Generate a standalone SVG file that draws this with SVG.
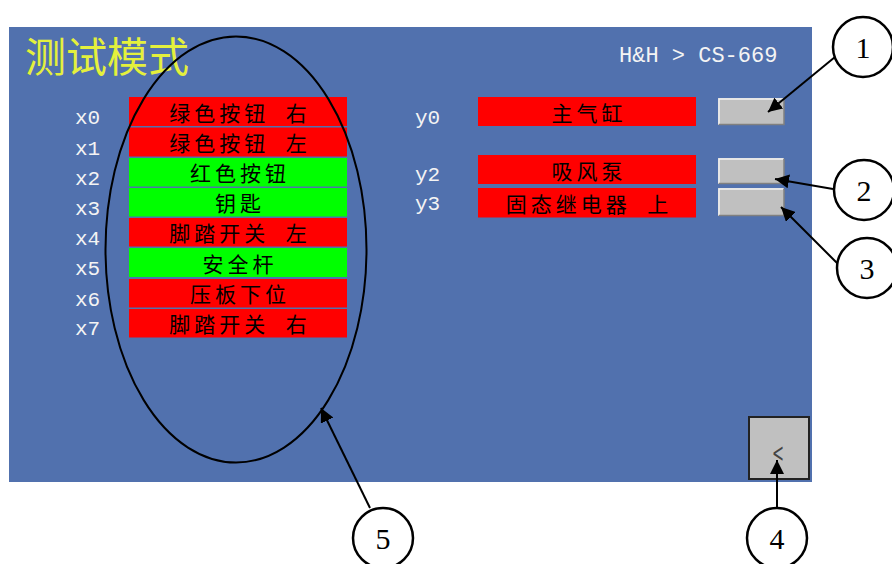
<svg xmlns="http://www.w3.org/2000/svg" width="892" height="564" viewBox="0 0 892 564">
<defs>
<style>
.cn{font-family:"Noto Sans CJK SC","Noto Sans CJK TC",sans-serif;font-size:21px;letter-spacing:4px;fill:#000;text-anchor:middle;dominant-baseline:central;word-spacing:8px}
.lbl{font-family:"Liberation Mono","DejaVu Sans Mono",monospace;font-size:21px;fill:#f4f4f4}
.red{fill:#ff0000}
.grn{fill:#00ff00}
.btn{fill:#c0c0c0}
.hl{fill:none;stroke:#f2f2f2;stroke-width:1.5}
.sh{fill:none;stroke:#808080;stroke-width:1.5}
.co{fill:#fff;stroke:#000;stroke-width:2.5}
.num{font-family:"Liberation Serif",serif;font-size:30px;fill:#000;text-anchor:middle;dominant-baseline:central}
.ar{fill:none;stroke:#000;stroke-width:2}
</style>
<marker id="ahb" viewBox="0 0 10 10" refX="10" refY="5" markerWidth="14" markerHeight="14" orient="auto" markerUnits="userSpaceOnUse">
<path d="M0,0 L10,5 L0,10 z" fill="#000"/>
</marker>
</defs>
<rect x="0" y="0" width="892" height="564" fill="#fff"/>
<g id="panel">
<rect x="9" y="27" width="803" height="455" fill="#5171ae"/>
<text x="25" y="72" font-family="'Noto Sans CJK SC',sans-serif" font-size="41" fill="#e4f03c">测试模式</text>
<text x="619" y="62" font-family="'Liberation Mono','DejaVu Sans Mono',monospace" font-size="22" fill="#f4f4f4">H&amp;H &gt; CS-669</text>
</g>
<g id="inputs">
<g id="x0"><text class="lbl" x="75" y="124">x0</text><rect class="red" x="129" y="97" width="218" height="29"/><text class="cn" x="240" y="111.5">绿色按钮 右</text></g>
<g id="x1"><text class="lbl" x="75" y="155">x1</text><rect class="red" x="129" y="127.5" width="218" height="29"/><text class="cn" x="240" y="142">绿色按钮 左</text></g>
<g id="x2"><text class="lbl" x="75" y="185">x2</text><rect class="grn" x="129" y="158" width="218" height="28.5"/><text class="cn" x="240" y="172">红色按钮</text></g>
<g id="x3"><text class="lbl" x="75" y="215">x3</text><rect class="grn" x="129" y="188" width="218" height="28.5"/><text class="cn" x="240" y="202">钥匙</text></g>
<g id="x4"><text class="lbl" x="75" y="245">x4</text><rect class="red" x="129" y="218" width="218" height="28.5"/><text class="cn" x="240" y="232">脚踏开关 左</text></g>
<g id="x5"><text class="lbl" x="75" y="275">x5</text><rect class="grn" x="129" y="248" width="218" height="29"/><text class="cn" x="240" y="262.5">安全杆</text></g>
<g id="x6"><text class="lbl" x="75" y="306">x6</text><rect class="red" x="129" y="279" width="218" height="28.5"/><text class="cn" x="240" y="293">压板下位</text></g>
<g id="x7"><text class="lbl" x="75" y="335">x7</text><rect class="red" x="129" y="309" width="218" height="28.5"/><text class="cn" x="240" y="323">脚踏开关 右</text></g>
</g>
<g id="outputs">
<g id="y0"><text class="lbl" x="415" y="124" font-size="19">y0</text><rect class="red" x="478" y="97" width="218" height="29"/><text class="cn" x="589" y="111.5">主气缸</text></g>
<g id="y2"><text class="lbl" x="415" y="181" font-size="19">y2</text><rect class="red" x="478" y="155" width="218" height="29"/><text class="cn" x="589" y="169.5">吸风泵</text></g>
<g id="y3"><text class="lbl" x="415" y="210" font-size="19">y3</text><rect class="red" x="478" y="188" width="218" height="29.5"/><text class="cn" x="589" y="202.5">固态继电器 上</text></g>
</g>
<g id="btn-y0"><rect class="btn" x="718" y="98" width="66" height="27"/><path class="hl" d="M719,124 V99 H783"/><path class="sh" d="M719,124.5 H784 V99"/></g>
<g id="btn-y2"><rect class="btn" x="718" y="158" width="66" height="26"/><path class="hl" d="M719,183 V159 H783"/><path class="sh" d="M719,183.5 H784 V159"/></g>
<g id="btn-y3"><rect class="btn" x="718" y="188" width="66" height="28"/><path class="hl" d="M719,215 V189 H783"/><path class="sh" d="M719,215.5 H784 V189"/></g>
<g id="btn-back"><rect x="749" y="417" width="60" height="62" fill="#c0c0c0" stroke="#222" stroke-width="2"/><text x="778" y="458" font-family="'DejaVu Sans',sans-serif" font-size="18" fill="#444" text-anchor="middle" transform="translate(778 450) scale(0.8 1.5) translate(-778 -450)">&lt;</text></g>
<g id="group-ellipse"><ellipse cx="236" cy="249.5" rx="130.5" ry="213" fill="none" stroke="#000" stroke-width="2"/></g>
<g id="connectors">
<line class="ar" x1="835" y1="57" x2="768" y2="112" marker-end="url(#ahb)"/>
<line class="ar" x1="833" y1="189" x2="775" y2="179" marker-end="url(#ahb)"/>
<line class="ar" x1="838" y1="264" x2="781" y2="207" marker-end="url(#ahb)"/>
<line class="ar" x1="777" y1="507" x2="777" y2="460" marker-end="url(#ahb)"/>
<line class="ar" x1="370" y1="508" x2="321" y2="408" marker-end="url(#ahb)"/>
</g>
<g id="c1"><circle class="co" cx="863" cy="47" r="30"/><text class="num" x="863" y="47">1</text></g>
<g id="c2"><circle class="co" cx="864" cy="190" r="30"/><text class="num" x="864" y="190">2</text></g>
<g id="c3"><circle class="co" cx="867" cy="268" r="30"/><text class="num" x="867" y="268">3</text></g>
<g id="c4"><circle class="co" cx="777" cy="538" r="30"/><text class="num" x="777" y="538">4</text></g>
<g id="c5"><circle class="co" cx="383" cy="538" r="30"/><text class="num" x="383" y="538">5</text></g>
</svg>
